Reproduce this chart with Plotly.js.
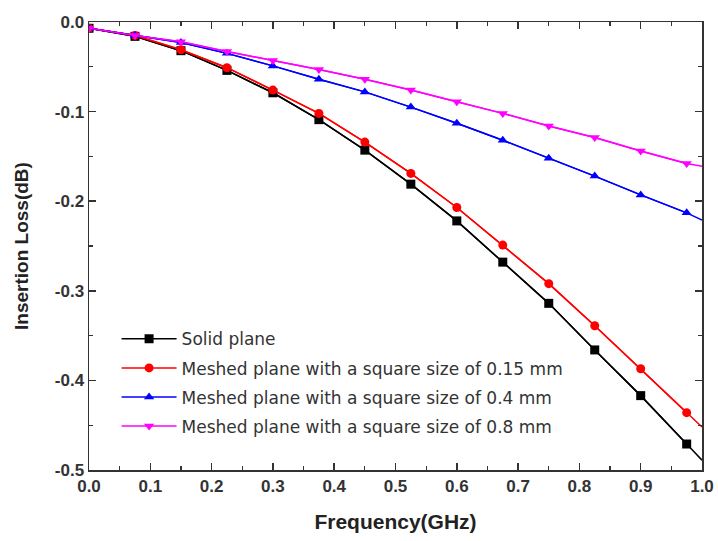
<!DOCTYPE html>
<html>
<head>
<meta charset="utf-8">
<script src="https://cdn.plot.ly/plotly-3.0.1.min.js"></script>
<style>html,body{margin:0;padding:0;background:#fff;}#chart{width:718px;height:541px;}</style>
</head>
<body>
<div id="chart"></div>
<script>
// Frequency points (GHz); last point 1.0 is the line end without a marker
const freq = [0.0, 0.075, 0.15, 0.225, 0.3, 0.375, 0.45, 0.525, 0.6, 0.675, 0.75, 0.825, 0.9, 0.975, 1.0];
const solidPlane = [-0.007, -0.016, -0.032, -0.054, -0.079, -0.109, -0.143, -0.181, -0.222, -0.268, -0.314, -0.366, -0.417, -0.471, -0.489];
const mesh015 = [-0.007, -0.015, -0.031, -0.051, -0.076, -0.102, -0.134, -0.169, -0.207, -0.249, -0.292, -0.339, -0.387, -0.436, -0.452];
const mesh04 = [-0.007, -0.015, -0.023, -0.035, -0.049, -0.064, -0.078, -0.095, -0.113, -0.132, -0.152, -0.172, -0.193, -0.213, -0.221];
const mesh08 = [-0.007, -0.015, -0.022, -0.033, -0.043, -0.053, -0.064, -0.076, -0.089, -0.102, -0.116, -0.129, -0.144, -0.158, -0.161];
const seriesNames = [
  "Solid plane",
  "Meshed plane with a square size of 0.15 mm",
  "Meshed plane with a square size of 0.4 mm",
  "Meshed plane with a square size of 0.8 mm"
];
const xTickVals = [0, 0.1, 0.2, 0.3, 0.4, 0.5, 0.6, 0.7, 0.8, 0.9, 1.0];
const xTickText = ["0.0", "0.1", "0.2", "0.3", "0.4", "0.5", "0.6", "0.7", "0.8", "0.9", "1.0"];
const yTickVals = [0, -0.1, -0.2, -0.3, -0.4, -0.5];
const yTickText = ["0.0", "-0.1", "-0.2", "-0.3", "-0.4", "-0.5"];

const seriesValues = [solidPlane, mesh015, mesh04, mesh08];
const colors = ["#000000", "#ff0000", "#0000ff", "#ff00ff"];
const symbols = ["square", "circle", "triangle-up", "triangle-down"];
const markerCount = 14; // markers on the first 14 points

const traces = [];
seriesValues.forEach((vals, i) => {
  traces.push({
    x: freq, y: vals, mode: "lines", showlegend: false, hoverinfo: "skip",
    line: {color: colors[i], width: 1.5}
  });
});
seriesValues.forEach((vals, i) => {
  traces.push({
    x: freq.slice(0, markerCount), y: vals.slice(0, markerCount),
    mode: "lines+markers", name: seriesNames[i], legendgroup: "g" + i,
    line: {color: colors[i], width: 1.5},
    marker: {color: colors[i], symbol: symbols[i], size: 9}
  });
});

const tickFont = {family: "Liberation Sans, Arial, sans-serif", size: 17, color: "#333", weight: "bold"};
const axisCommon = {
  showgrid: false, zeroline: false, showline: true, linecolor: "#333", linewidth: 1.5,
  mirror: "allticks", ticks: "inside", ticklen: 7, tickwidth: 1.5, tickcolor: "#333",
  tickfont: tickFont, tickmode: "array"
};

const layout = {
  width: 718, height: 541,
  margin: {l: 89, r: 16, t: 22, b: 71},
  paper_bgcolor: "#fff", plot_bgcolor: "#fff",
  xaxis: Object.assign({}, axisCommon, {
    range: [0, 1], tickvals: xTickVals, ticktext: xTickText,
    minor: {tickvals: [0.05, 0.15, 0.25, 0.35, 0.45, 0.55, 0.65, 0.75, 0.85, 0.95], ticks: "inside", ticklen: 4, tickcolor: "#333", tickwidth: 1.2},
    title: {text: "<b>Frequency(GHz)</b>", font: {family: "Liberation Sans, Arial, sans-serif", size: 21, color: "#222"}, standoff: 19}
  }),
  yaxis: Object.assign({}, axisCommon, {
    range: [-0.5, 0], tickvals: yTickVals, ticktext: yTickText,
    minor: {tickvals: [-0.05, -0.15, -0.25, -0.35, -0.45], ticks: "inside", ticklen: 4, tickcolor: "#333", tickwidth: 1.2},
    title: {text: "<b>Insertion Loss(dB)</b>", font: {family: "Liberation Sans, Arial, sans-serif", size: 19, color: "#222"}, standoff: 21}
  }),
  legend: {
    x: 0.045, y: 0.332, xanchor: "left", yanchor: "top",
    bgcolor: "rgba(0,0,0,0)", borderwidth: 0,
    font: {family: "DejaVu Sans, sans-serif", size: 17, color: "#333"},
    itemwidth: 55, tracegroupgap: 4
  },
  showlegend: true
};

Plotly.newPlot("chart", traces, layout, {displayModeBar: false, staticPlot: true});
</script>
</body>
</html>
